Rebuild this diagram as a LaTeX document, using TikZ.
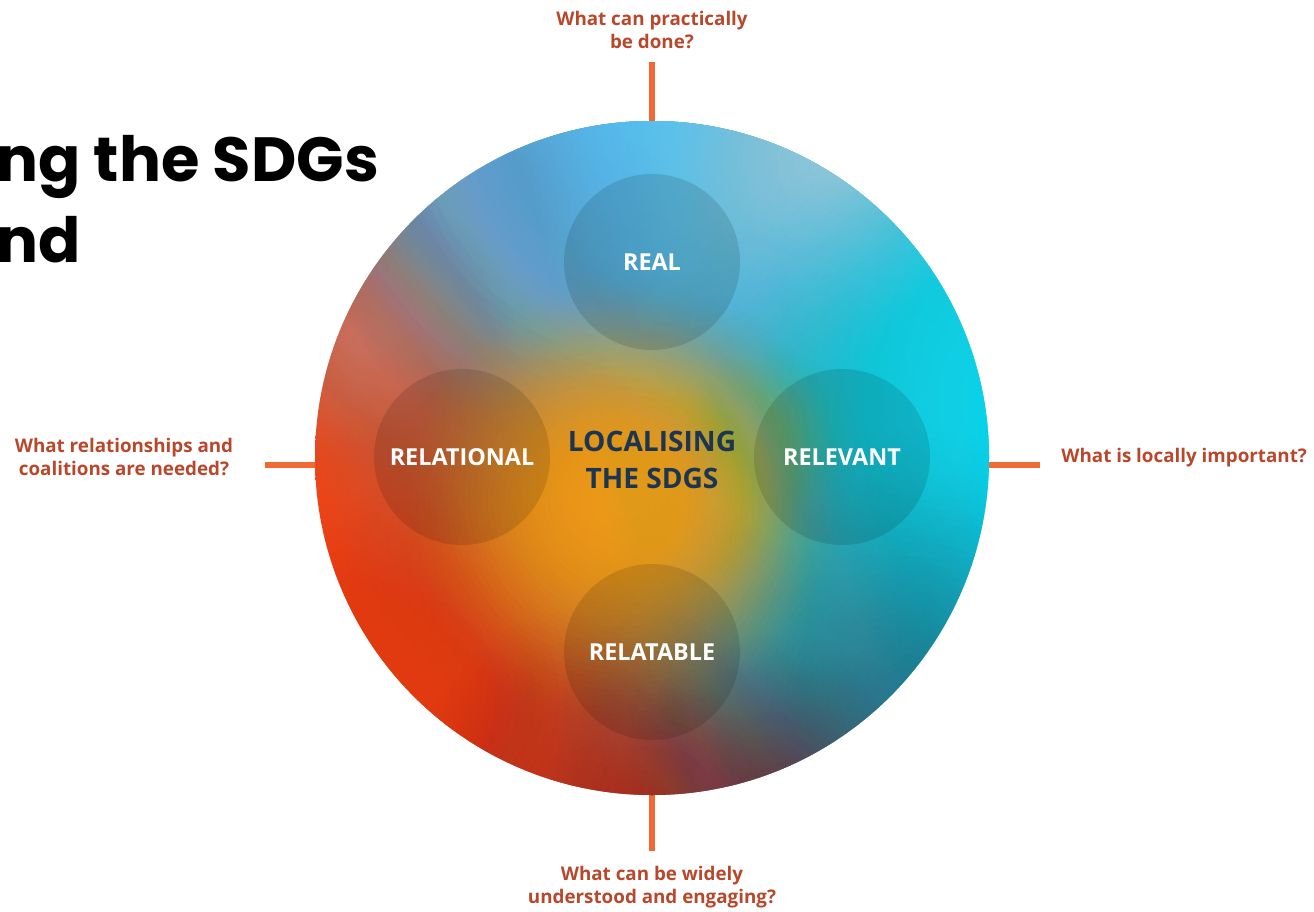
\documentclass[tikz,border=0pt]{standalone}
\usepackage{fontspec}
\setmainfont{Open Sans}
\newfontfamily\headfont{Poppins}

\definecolor{askred}{HTML}{B8472B}
\definecolor{tickorange}{HTML}{F26A33}
\definecolor{hubnavy}{HTML}{1C3552}
\definecolor{hubleft}{HTML}{EE4E22}
\definecolor{hubmid}{HTML}{F4A22A}
\definecolor{hubright}{HTML}{06D2EA}

% soft round blob, built from thin stacked discs (fainter towards the rim)
\newcommand\blob[4][1]{\definecolor{blobcol}{HTML}{#2}%
  \foreach \k in {1,...,40}{%
    \pgfmathsetmacro\blobop{min(#1*0.09*(41-\k)/40,0.35)}%
    \fill[blobcol, fill opacity=\blobop] (#3) circle ({#4*\k/40});}}

\tikzset{
  tick/.style={tickorange, line width=3pt},
  ask/.style={text=askred, inner sep=0pt, align=center,
    font=\bfseries\fontsize{10.7}{13}\selectfont},
  ring/.style={fill=black, fill opacity=.12},
  key/.style={text=white, inner sep=0pt, font=\bfseries\fontsize{13.3}{16}\selectfont},
}

\begin{document}
\begin{tikzpicture}[x=0.02cm, y=-0.02cm]
\useasboundingbox (0,0) rectangle (1314,912);

% title, cut off at the left edge
\node[anchor=base west, inner sep=0pt, font=\headfont\bfseries\fontsize{35.5}{45}\selectfont] (title1) at (-4,182) {ng the SDGs};
\node[anchor=base west, inner sep=0pt, font=\headfont\bfseries\fontsize{35.5}{45}\selectfont] (title2) at (-4,262) {nd};

% ticks
\coordinate (hub) at (652,458);
\coordinate (tn) at (652,62);  \coordinate (rn) at (652,130);
\coordinate (ts) at (652,851); \coordinate (rs) at (652,785);
\coordinate (tw) at (265,465); \coordinate (rw) at (335,465);
\coordinate (te) at (1040,465);\coordinate (re) at (970,465);
\draw[tick] (rn) -- (tn);
\draw[tick] (rs) -- (ts);
\draw[tick] (rw) -- (tw);
\draw[tick] (re) -- (te);

% the big disc
\begin{scope}
\clip (hub) circle (337);
\shade[left color=hubleft, middle color=hubmid, right color=hubright] (315,120) rectangle (990,800);
\blob[3]{55C6FA}{650,110}{370}
\blob[.8]{6A9CCB}{450,210}{230}
\blob[.7]{C88678}{360,340}{160}
\blob{B0D2D8}{840,160}{230}
\blob[1.2]{10DAF0}{990,400}{320}
\blob[1.2]{F03A10}{420,700}{310}
\blob{C02818}{640,830}{240}
\blob{2A7C92}{910,710}{280}
\blob[.8]{7A3A44}{780,800}{170}
\blob[2]{F8A018}{620,500}{230}
\blob[.5]{E0B030}{700,480}{110}
\blob[.35]{90C070}{770,430}{90}
\end{scope}

% the four rings
\foreach \x/\y/\t/\n in {652/262/REAL/real, 462/457/RELATIONAL/relational,
  842/457/RELEVANT/relevant, 652/652/RELATABLE/relatable}{
  \fill[ring] (\x,\y) circle (88);
  \node[key] (\n) at (\x,\y) {\t};
}

\node[text=hubnavy, inner sep=0pt, align=center, font=\bfseries\fontsize{16}{21}\selectfont] (centre) at (652,460) {LOCALISING\\THE SDGS};

% the four questions
\node[ask] (qtop) at (652,30) {What can practically\\be done?};
\node[ask] (qleft) at (124,457) {What relationships and\\coalitions are needed?};
\node[ask, anchor=west] (qright) at (1061,458) {What is locally important?};
\node[ask] (qbot) at (652,887) {What can be widely\\understood and engaging?};
\end{tikzpicture}
\end{document}
